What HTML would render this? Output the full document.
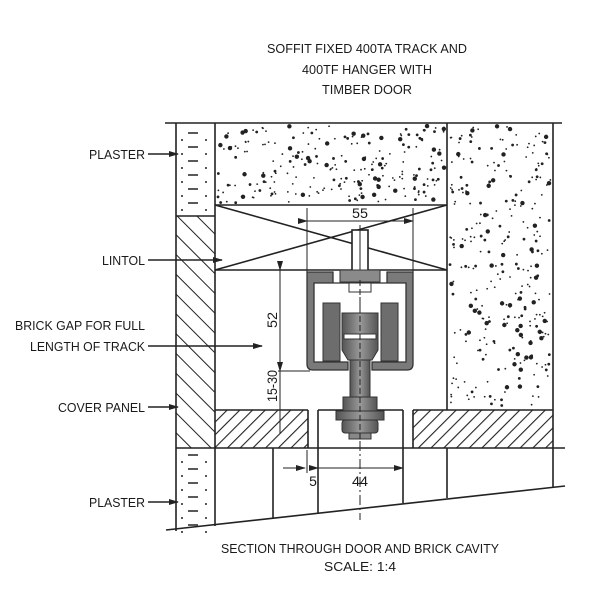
<!DOCTYPE html>
<html><head><meta charset="utf-8"><style>
html,body{margin:0;padding:0;background:#fff;width:600px;height:600px;overflow:hidden}
svg{display:block}
text{font-family:"Liberation Sans",sans-serif;fill:#1a1a1a}
</style></head><body>
<svg id="s" width="600" height="600" viewBox="0 0 600 600" xmlns="http://www.w3.org/2000/svg">
<defs>
<pattern id="h1" patternUnits="userSpaceOnUse" width="14" height="14" patternTransform="rotate(-45)">
<line x1="0" y1="0" x2="0" y2="14" stroke="#222" stroke-width="2"/></pattern>
<pattern id="h2" patternUnits="userSpaceOnUse" width="9" height="9" patternTransform="rotate(45)">
<line x1="0" y1="0" x2="0" y2="9" stroke="#222" stroke-width="2.2"/></pattern>
<linearGradient id="g" x1="0" x2="1"><stop offset="0" stop-color="#555"/><stop offset="0.5" stop-color="#999"/><stop offset="1" stop-color="#555"/></linearGradient>
<marker id="ar" markerWidth="10" markerHeight="8" refX="9" refY="4" orient="auto" markerUnits="userSpaceOnUse"><path d="M0,1 L10,4 L0,7 z" fill="#222"/></marker>
</defs>
<g font-size="13" text-anchor="middle">
<text x="367" y="53" textLength="200" lengthAdjust="spacingAndGlyphs">SOFFIT FIXED 400TA TRACK AND</text>
<text x="367" y="74" textLength="130" lengthAdjust="spacingAndGlyphs">400TF HANGER WITH</text>
<text x="367" y="94" textLength="90" lengthAdjust="spacingAndGlyphs">TIMBER DOOR</text>
<text x="360" y="553" textLength="278" lengthAdjust="spacingAndGlyphs">SECTION THROUGH DOOR AND BRICK CAVITY</text>
<text x="360" y="571" textLength="72" lengthAdjust="spacingAndGlyphs">SCALE: 1:4</text>
</g>
<g font-size="13" text-anchor="end">
<text x="145" y="159" textLength="56" lengthAdjust="spacingAndGlyphs">PLASTER</text>
<text x="145" y="265" textLength="43" lengthAdjust="spacingAndGlyphs">LINTOL</text>
<text x="145" y="330" textLength="130" lengthAdjust="spacingAndGlyphs">BRICK GAP FOR FULL</text>
<text x="145" y="351" textLength="115" lengthAdjust="spacingAndGlyphs">LENGTH OF TRACK</text>
<text x="145" y="412" textLength="87" lengthAdjust="spacingAndGlyphs">COVER PANEL</text>
<text x="145" y="507" textLength="56" lengthAdjust="spacingAndGlyphs">PLASTER</text>
</g>
<g stroke="#222" stroke-width="1.5" fill="none">
<line x1="148" y1="154" x2="178" y2="154" marker-end="url(#ar)"/>
<line x1="148" y1="260" x2="222" y2="260" marker-end="url(#ar)"/>
<line x1="148" y1="346" x2="262" y2="346" marker-end="url(#ar)"/>
<line x1="148" y1="407" x2="178" y2="407" marker-end="url(#ar)"/>
<line x1="148" y1="502" x2="178" y2="502" marker-end="url(#ar)"/>
</g>
<rect x="176" y="216" width="39" height="232" fill="url(#h1)"/>
<rect x="215" y="410" width="93" height="38" fill="url(#h2)"/>
<rect x="413" y="410" width="140" height="38" fill="url(#h2)"/>
<g id="dots" fill="#222"></g>
<g stroke="#222" stroke-width="1.6" fill="none">
<line x1="165" y1="123" x2="562" y2="123"/>
<line x1="176" y1="123" x2="176" y2="531"/>
<line x1="215" y1="123" x2="215" y2="526"/>
<line x1="176" y1="216" x2="215" y2="216"/>
<line x1="176" y1="448" x2="565" y2="448"/>
<line x1="215" y1="205" x2="447" y2="205"/>
<line x1="215" y1="270" x2="447" y2="270"/>
<line x1="215" y1="205" x2="447" y2="270"/>
<line x1="215" y1="270" x2="447" y2="205"/>
<line x1="447" y1="123" x2="447" y2="410"/>
<line x1="553" y1="123" x2="553" y2="488"/>
<line x1="215" y1="410" x2="308" y2="410"/>
<line x1="308" y1="410" x2="308" y2="448"/>
<line x1="413" y1="410" x2="553" y2="410"/>
<line x1="413" y1="410" x2="413" y2="448"/>
<line x1="318" y1="410" x2="403" y2="410"/>
<line x1="318" y1="410" x2="318" y2="513"/>
<line x1="403" y1="410" x2="403" y2="503"/>
<line x1="273" y1="448" x2="273" y2="519"/>
<line x1="447" y1="448" x2="447" y2="498"/>
<line x1="166" y1="530" x2="565" y2="486"/>
<line x1="307" y1="208" x2="307" y2="272" stroke-width="1"/>
<line x1="413" y1="208" x2="413" y2="272" stroke-width="1"/>
<line x1="307" y1="221" x2="413" y2="221" stroke-width="1" marker-start="url(#ar)" marker-end="url(#ar)"/>
<line x1="280" y1="270" x2="280" y2="371" stroke-width="1" marker-start="url(#ar)" marker-end="url(#ar)"/>
<line x1="278" y1="371" x2="310" y2="371" stroke-width="1"/>
<line x1="280" y1="371" x2="280" y2="434" stroke-width="1"/>
<line x1="283" y1="468" x2="305" y2="468" stroke-width="1" marker-end="url(#ar)"/>
<line x1="307" y1="450" x2="307" y2="473" stroke-width="1"/>
<line x1="318" y1="468" x2="403" y2="468" stroke-width="1" marker-start="url(#ar)" marker-end="url(#ar)"/>
<line x1="360" y1="225" x2="360" y2="520" stroke-width="1" stroke-dasharray="10,3,2,3"/>
</g>
<rect x="352" y="230" width="16" height="45" fill="#fff" stroke="#222" stroke-width="1.6"/>
<line x1="360" y1="230" x2="360" y2="275" stroke="#222"/>
<path fill-rule="evenodd" d="M307,272 H333 V283 H387 V272 H413 V364 Q413,370 407,370 H372 V362 H406 V283 H314 V362 H348 V370 H313 Q307,370 307,364 Z" fill="#7a7a7a" stroke="#333" stroke-width="1.3"/>
<path d="M340,270 H380 V282 H340 Z" fill="#8a8a8a" stroke="#333"/>
<rect x="349" y="283" width="22" height="9" fill="#fff" stroke="#333"/>
<rect x="323" y="303" width="17" height="58" fill="#6d6d6d" stroke="#333"/>
<rect x="381" y="303" width="17" height="58" fill="#6d6d6d" stroke="#333"/>
<path d="M342,313 H378 V350 L372,360 H348 L342,350 Z" fill="url(#g)" stroke="#333"/>
<rect x="344" y="334" width="32" height="5" fill="#fff" stroke="#333"/>
<rect x="350" y="360" width="20" height="38" fill="url(#g)" stroke="#333"/>
<rect x="343" y="397" width="34" height="15" fill="url(#g)" stroke="#333"/>
<rect x="336" y="411" width="48" height="9" fill="url(#g)" stroke="#333"/>
<rect x="342" y="420" width="36" height="13" rx="3" fill="url(#g)" stroke="#333"/>
<rect x="349" y="433" width="22" height="6" fill="#888" stroke="#333"/>
<line x1="360" y1="280" x2="360" y2="440" stroke="#222" stroke-dasharray="6,3"/>
<text x="360" y="218" font-size="14" text-anchor="middle" textLength="16" lengthAdjust="spacingAndGlyphs">55</text>
<text x="360" y="486" font-size="14" text-anchor="middle" textLength="16" lengthAdjust="spacingAndGlyphs">44</text>
<text x="313" y="486" font-size="14" text-anchor="middle">5</text>
<text font-size="14" text-anchor="middle" transform="translate(277,320) rotate(-90)" textLength="16" lengthAdjust="spacingAndGlyphs">52</text>
<text font-size="14" text-anchor="middle" transform="translate(277,386) rotate(-90)" textLength="32" lengthAdjust="spacingAndGlyphs">15-30</text>
</svg>
<script>
(function(){var g=document.getElementById('dots'),ns='http://www.w3.org/2000/svg',seed=7;
function r(){seed=(seed*16807)%2147483647;return seed/2147483647;}
function fill(x0,y0,w,h,n){for(var i=0;i<n;i++){var c=document.createElementNS(ns,'circle');
c.setAttribute('cx',x0+r()*w);c.setAttribute('cy',y0+r()*h);var q=r();c.setAttribute('r',q<0.15?2.2:(q<0.4?1.4:0.9));g.appendChild(c);}}
fill(218,126,227,77,230);fill(450,126,101,282,300);
function pl(x0,y0,y1){for(var y=y0;y<y1;y+=14){var a=document.createElementNS(ns,'line');a.setAttribute('x1',x0+12);a.setAttribute('x2',x0+22);a.setAttribute('y1',y);a.setAttribute('y2',y);a.setAttribute('stroke','#222');a.setAttribute('stroke-width','1.5');g.appendChild(a);
var c=document.createElementNS(ns,'circle');c.setAttribute('cx',x0+6);c.setAttribute('cy',y+7);c.setAttribute('r',1);g.appendChild(c);
c=document.createElementNS(ns,'circle');c.setAttribute('cx',x0+30);c.setAttribute('cy',y+7);c.setAttribute('r',1);g.appendChild(c);}}
pl(176,133,210);pl(176,455,528);})();
</script>
</body></html>
